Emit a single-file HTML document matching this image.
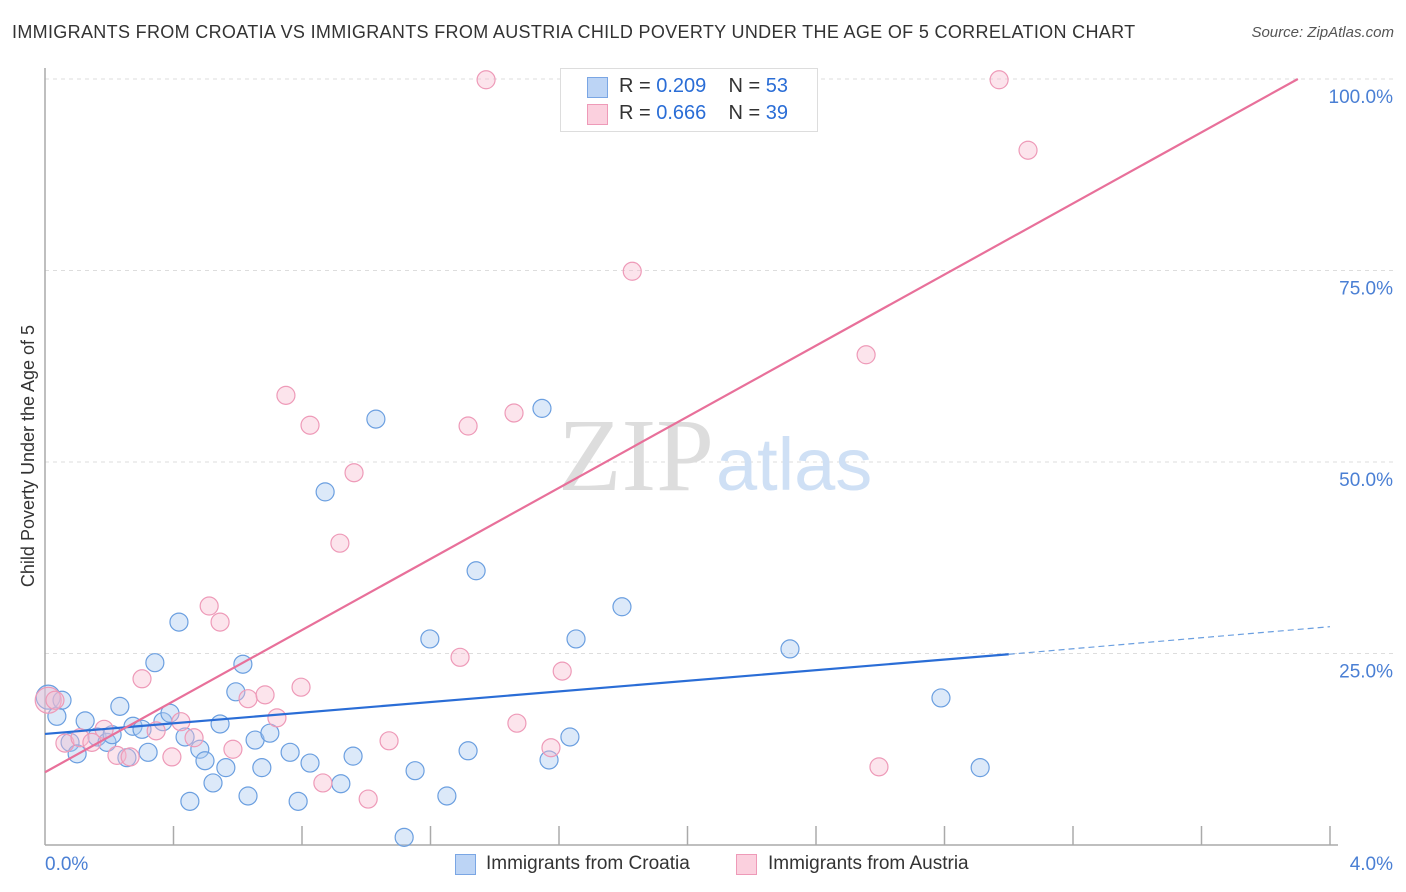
<!DOCTYPE html>
<html><head><meta charset="utf-8"><style>
body{margin:0;background:#fff;font-family:"Liberation Sans",sans-serif}
#wrap{position:relative;width:1406px;height:892px;overflow:hidden}
.t{position:absolute;white-space:nowrap}
</style></head><body>
<div id="wrap">
<div class="t" style="left:12px;top:22px;font-size:18px;color:#333;letter-spacing:0.33px">IMMIGRANTS FROM CROATIA VS IMMIGRANTS FROM AUSTRIA CHILD POVERTY UNDER THE AGE OF 5 CORRELATION CHART</div>
<div class="t" style="right:12px;top:24px;font-size:15px;color:#555;font-style:italic">Source: ZipAtlas.com</div>
<svg id="svg" width="1406" height="892" style="position:absolute;left:0;top:0"></svg>
</div>
<script>
const yTicks=[25,50,75,100];
const yTickLabels=["25.0%","50.0%","75.0%","100.0%"];
const xTickLabels=["0.0%","4.0%"];
const croatiaX=[0.01,0.037,0.053,0.078,0.10,0.125,0.162,0.193,0.209,0.233,0.255,0.274,0.302,0.321,0.342,0.367,0.389,0.417,0.436,0.451,0.482,0.498,0.523,0.545,0.563,0.594,0.616,0.632,0.654,0.675,0.700,0.763,0.788,0.825,0.872,0.921,0.959,1.030,1.118,1.152,1.198,1.251,1.317,1.342,1.547,1.569,1.634,1.653,1.796,2.319,2.789,2.911];
const croatiaY=[19.3,16.8,18.9,13.4,11.9,16.2,14.1,13.4,14.4,18.1,11.4,15.5,15.1,12.1,23.8,16.1,17.2,29.1,14.1,5.7,12.5,11.0,8.1,15.8,10.1,20.0,23.6,6.4,13.7,10.1,14.6,12.1,5.7,10.7,46.1,8.0,11.6,55.6,1.0,9.7,26.9,6.4,12.3,35.8,57.0,11.1,14.1,26.9,31.1,25.6,19.2,10.1];
const austriaX=[0.01,0.031,0.062,0.109,0.146,0.184,0.224,0.265,0.302,0.346,0.395,0.423,0.464,0.511,0.545,0.585,0.632,0.685,0.722,0.750,0.797,0.825,0.865,0.918,0.962,1.006,1.071,1.292,1.317,1.373,1.460,1.469,1.575,1.610,1.828,2.556,2.596,2.970,3.060];
const austriaY=[18.9,18.9,13.3,14.0,13.4,15.1,11.7,11.5,21.7,14.9,11.5,16.1,14.0,31.2,29.1,12.5,19.1,19.6,16.6,58.7,20.6,54.8,8.1,39.4,48.6,6.0,13.6,24.5,54.7,99.9,56.4,15.9,12.7,22.7,74.9,64.0,10.2,99.9,90.7];
const croatiaBig=[0];const austriaBig=[0];
const blueLine={x0:0,y0:14.5,x1:3.0,y1:24.9,x2:4.0,y2:28.5};
const pinkLine={x0:0,y0:9.5,x1:3.9,y1:100};
const X=v=>45+v*321.25, Y=v=>845-v*7.66;
const svg=document.getElementById('svg');const NS='http://www.w3.org/2000/svg';
function mk(tag,attrs,name){const e=document.createElementNS(NS,tag);for(const k in attrs)e.setAttribute(k,attrs[k]);


svg.appendChild(e);return e;}
yTicks.forEach((v,i)=>{mk('line',{x1:45,x2:1393,y1:Y(v),y2:Y(v),stroke:'#ddd','stroke-dasharray':'4,4'},'gridline');
const t=mk('text',{x:1393,y:Y(v)+24,'text-anchor':'end','font-size':19,fill:'#4a7fd4','font-family':'Liberation Sans'},'y-tick-label');t.textContent=yTickLabels[i];});
mk('text',{x:714,y:490,'text-anchor':'end','font-size':104,fill:'#ddd','font-family':'Liberation Serif'},'watermark-zip').textContent='ZIP';
mk('text',{x:716,y:490,'font-size':74,fill:'#cfe0f5','font-family':'Liberation Sans'},'watermark-atlas').textContent='atlas';
mk('line',{x1:45,x2:45,y1:68,y2:845,stroke:'#aaa','stroke-width':1.5},'y-axis');
mk('line',{x1:45,x2:1338,y1:845,y2:845,stroke:'#aaa','stroke-width':1.5},'x-axis');
for(let i=1;i<=10;i++){mk('line',{x1:X(i*0.4),x2:X(i*0.4),y1:826,y2:845,stroke:'#aaa','stroke-width':1.5},'x-tick');}
const tl=mk('text',{x:45,y:870,'font-size':19,fill:'#4a7fd4','font-family':'Liberation Sans'},'x-tick-label');tl.textContent=xTickLabels[0];
const tr=mk('text',{x:1393,y:870,'text-anchor':'end','font-size':19,fill:'#4a7fd4','font-family':'Liberation Sans'},'x-tick-label');tr.textContent=xTickLabels[1];
const yt=mk('text',{x:0,y:0,transform:'translate(34,456) rotate(-90)','text-anchor':'middle','font-size':18,fill:'#333','font-family':'Liberation Sans'},'y-axis-title');yt.textContent='Child Poverty Under the Age of 5';
croatiaX.forEach((x,i)=>mk('circle',{cx:X(x),cy:Y(croatiaY[i]),r:croatiaBig.includes(i)?12:9,fill:'rgba(168,199,240,0.4)',stroke:'#6b9fe0','stroke-width':1.2},'croatia-point'));
austriaX.forEach((x,i)=>mk('circle',{cx:X(x),cy:Y(austriaY[i]),r:austriaBig.includes(i)?13:9,fill:'rgba(248,187,208,0.4)',stroke:'#ee9ab8','stroke-width':1.2},'austria-point'));
mk('line',{x1:X(blueLine.x0),y1:Y(blueLine.y0),x2:X(blueLine.x1),y2:Y(blueLine.y1),stroke:'#2a6dd6','stroke-width':2.2},'croatia-trend-line');
mk('line',{x1:X(blueLine.x1),y1:Y(blueLine.y1),x2:X(blueLine.x2),y2:Y(blueLine.y2),stroke:'#6b9fe0','stroke-width':1.2,'stroke-dasharray':'6,4'},'croatia-trend-extension');
mk('line',{x1:X(pinkLine.x0),y1:Y(pinkLine.y0),x2:X(pinkLine.x1),y2:Y(pinkLine.y1),stroke:'#e8709a','stroke-width':2.2},'austria-trend-line');
</script>
<div style="position:absolute;left:560px;top:68px;width:256px;height:62px;border:1px solid #ddd;background:#fff;font-size:20px;color:#333">
<div style="position:absolute;left:26px;top:8px;width:19px;height:19px;background:#bcd4f5;border:1px solid #7aa6e4"></div>
<div class="t" style="left:58px;top:6px">R = <span style="color:#2a6dd6">0.209</span>&nbsp;&nbsp;&nbsp;&nbsp;N = <span style="color:#2a6dd6">53</span></div>
<div style="position:absolute;left:26px;top:35px;width:19px;height:19px;background:#fbd0de;border:1px solid #ee9ab8"></div>
<div class="t" style="left:58px;top:33px">R = <span style="color:#2a6dd6">0.666</span>&nbsp;&nbsp;&nbsp;&nbsp;N = <span style="color:#2a6dd6">39</span></div>
</div>
<div style="position:absolute;left:455px;top:854px;width:19px;height:19px;background:#bcd4f5;border:1px solid #7aa6e4"></div>
<div class="t" style="left:486px;top:853px;font-size:19px;color:#333">Immigrants from Croatia</div>
<div style="position:absolute;left:736px;top:854px;width:19px;height:19px;background:#fbd0de;border:1px solid #ee9ab8"></div>
<div class="t" style="left:768px;top:853px;font-size:19px;color:#333">Immigrants from Austria</div>
</body></html>
